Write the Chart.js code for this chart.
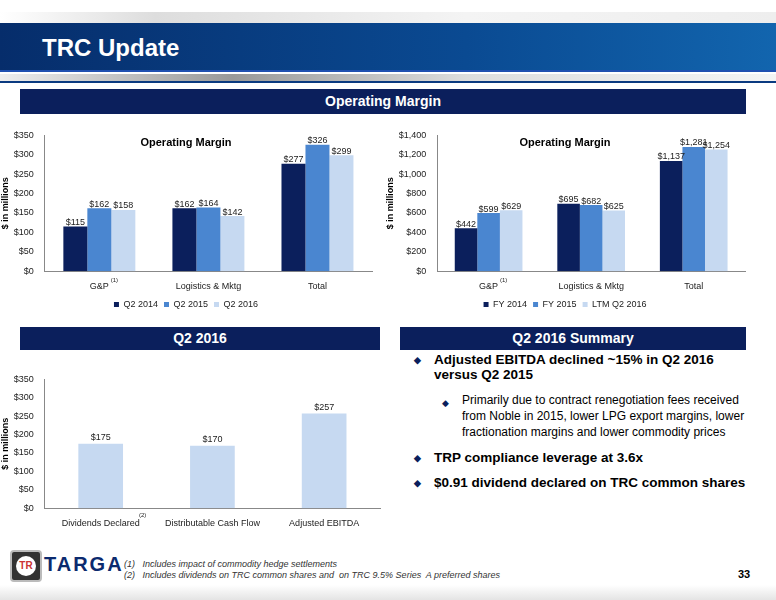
<!DOCTYPE html>
<html><head><meta charset="utf-8">
<script src="https://cdn.jsdelivr.net/npm/chart.js@4"></script>
<style>
body{margin:0;width:776px;height:600px;position:relative;font-family:"Liberation Sans",Arial,sans-serif;background:#fff;overflow:hidden}
.abs{position:absolute}
.band{background:#0b1f5c;color:#fff;font-weight:bold;font-size:14px;text-align:center;line-height:24px}
ul{margin:0;padding:0;list-style:none}
li{position:relative;padding-left:20px;margin-bottom:10px}
li:before{content:"\25C6";position:absolute;left:0;color:#0b1f5c;font-size:9px;top:3px}
</style></head><body>
<div class="abs" style="left:0;top:12px;width:776px;height:11px;background:linear-gradient(90deg,#fff,#ddd 20%,#f4f4f4 60%,#eee)"></div>
<div class="abs" style="left:0;top:23px;width:776px;height:48px;background:linear-gradient(90deg,#062d6b,#0a4a92 60%,#1265ae)"></div>
<div class="abs" style="left:0;top:70px;width:776px;height:2px;background:#2050b0"></div>
<div class="abs" style="left:0;top:74px;width:776px;height:7px;background:linear-gradient(90deg,#eee,#999 30%,#ddd 60%,#f4f4f4)"></div>
<div class="abs" style="left:0;top:81px;width:776px;height:2px;background:#0a3a80"></div>
<div class="abs" style="left:42px;top:34px;color:#fff;font-weight:bold;font-size:24px">TRC Update</div>
<div class="abs band" style="left:20px;top:89px;width:726px;height:25px">Operating Margin</div>
<div class="abs band" style="left:20px;top:327px;width:360px;height:23px;line-height:23px">Q2 2016</div>
<div class="abs band" style="left:400px;top:327px;width:346px;height:23px;line-height:23px">Q2 2016 Summary</div>
<div class="abs" style="left:0;top:127px;width:382px;height:172px"><canvas id="c1"></canvas></div>
<div class="abs" style="left:385px;top:127px;width:370px;height:172px"><canvas id="c2"></canvas></div>
<div class="abs" style="left:0;top:371px;width:390px;height:160px"><canvas id="c3"></canvas></div>
<div class="abs" style="left:414px;top:352px;width:340px;font-size:13px;color:#000">
<ul>
<li style="font-weight:bold;font-size:13.5px">Adjusted EBITDA declined ~15% in Q2 2016 versus Q2 2015</li>
<li style="margin-left:28px;font-size:12px;line-height:16px">Primarily due to contract renegotiation fees received from Noble in 2015, lower LPG export margins, lower fractionation margins and lower commodity prices</li>
<li style="font-weight:bold;font-size:13.5px">TRP compliance leverage at 3.6x</li>
<li style="font-weight:bold;font-size:13.5px">$0.91 dividend declared on TRC common shares</li>
</ul></div>
<div class="abs" style="left:10px;top:550px;width:28px;height:28px;border-radius:4px;background:#333;border:2px solid #bbb"><div style="margin:4px;width:20px;height:20px;border-radius:50%;background:#fff;color:#c33;font-size:10px;text-align:center;line-height:20px;font-weight:bold">TR</div></div>
<div class="abs" style="left:44px;top:553px;color:#0b2a6e;font-weight:bold;font-size:20px;letter-spacing:2px">TARGA</div>
<div class="abs" style="left:124px;top:559px;font-size:9px;font-style:italic;color:#333;line-height:11px">(1)&nbsp;&nbsp;&nbsp;Includes impact of commodity hedge settlements<br>(2)&nbsp;&nbsp;&nbsp;Includes dividends on TRC common shares and&nbsp; on TRC 9.5% Series&nbsp; A preferred shares</div>
<div class="abs" style="left:738px;top:568px;font-size:11px;font-weight:bold">33</div>
<div class="abs" style="left:0;top:585px;width:776px;height:15px;background:linear-gradient(#fff,#e4e4e4)"></div>
<script>
const catsA=["G&P","Logistics & Mktg","Total"];
const q2_2014=[115,162,277], q2_2015=[162,164,326], q2_2016=[158,142,299];
const fy2014=[442,695,1137], fy2015=[599,682,1281], ltm2016=[629,625,1254];
const catsB=["Dividends Declared","Distributable Cash Flow","Adjusted EBITDA"];
const q2Vals=[175,170,257];
const C1="#0b1f5c",C2="#4a86d0",C3="#c6d9f1";
document.querySelectorAll('#c1,#c2').forEach(c=>c.parentNode.style.height='192px');
const lbl={id:'lbl',afterDatasetsDraw(ch){const x=ch.ctx;x.save();x.font='9px "Liberation Sans"';x.fillStyle='#222';x.textAlign='center';
ch.data.datasets.forEach((d,i)=>{ch.getDatasetMeta(i).data.forEach((b,j)=>{x.fillText('$'+d.data[j].toLocaleString('en-US'),b.x,b.y-4);});});
const s=ch.options.plugins.sup;if(s){const sc=ch.scales.x;s.forEach(([j,t,dx])=>{x.font='6px "Liberation Sans"';x.fillText(t,sc.getPixelForValue(j)+dx,ch.scales.y.bottom+9);});}
x.restore();}};
function mk(id,cats,sets,max,step,title,legend,sup,cp){
 new Chart(document.getElementById(id),{type:'bar',data:{labels:cats,datasets:sets},plugins:[lbl],
 options:{responsive:true,maintainAspectRatio:false,animation:false,
 layout:{padding:{right:10,top:4}},
 datasets:{bar:{categoryPercentage:cp,barPercentage:1}},
 plugins:{sup:sup,title:{display:!!title,text:title,font:{size:11,weight:'bold',family:'Liberation Sans'},color:'#000',padding:{top:4,bottom:-14}},
  legend:{display:legend,position:'bottom',labels:{boxWidth:5,boxHeight:5,font:{size:9,family:'Liberation Sans'},color:'#222',padding:6}},tooltip:{enabled:false}},
 scales:{x:{grid:{display:false},border:{color:'#888'},ticks:{font:{size:9,family:'Liberation Sans'},color:'#222',padding:2}},
  y:{min:0,max:max,ticks:{stepSize:step,font:{size:9,family:'Liberation Sans'},color:'#222',callback:v=>'$'+v.toLocaleString('en-US')},grid:{display:false},border:{color:'#888'},
  title:{display:true,text:'$ in millions',font:{size:9,weight:'bold',family:'Liberation Sans'},color:'#000',padding:0}}}}});
}
mk('c1',catsA,[{label:'Q2 2014',data:q2_2014,backgroundColor:C1},{label:'Q2 2015',data:q2_2015,backgroundColor:C2},{label:'Q2 2016',data:q2_2016,backgroundColor:C3}],350,50,'Operating Margin',true,[[0,'(1)',15]],0.66);
mk('c2',catsA,[{label:'FY 2014',data:fy2014,backgroundColor:C1},{label:'FY 2015',data:fy2015,backgroundColor:C2},{label:'LTM Q2 2016',data:ltm2016,backgroundColor:C3}],1400,200,'Operating Margin',true,[[0,'(1)',15]],0.66);
mk('c3',catsB,[{label:'Q2 2016',data:q2Vals,backgroundColor:C3}],350,50,'',false,[[0,'(2)',42]],0.4);
</script></body></html>
